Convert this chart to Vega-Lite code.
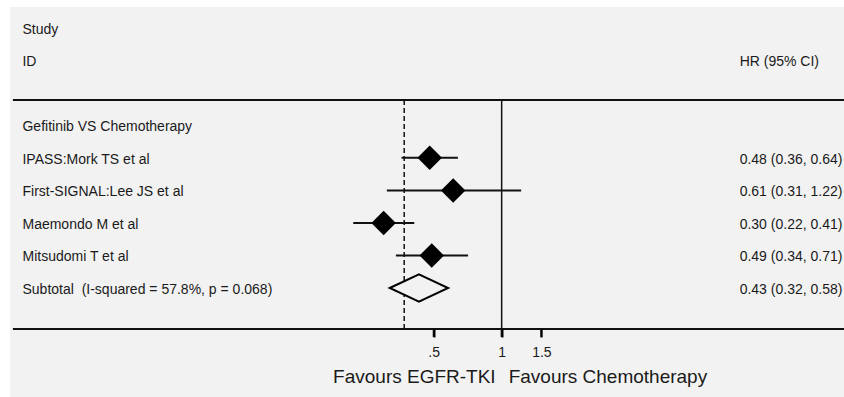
{
  "$schema": "https://vega.github.io/schema/vega-lite/v6.json",
  "width": 834,
  "height": 322,
  "autosize": {"type": "none"},
  "padding": {"left": 10, "top": 7, "right": 0, "bottom": 68},
  "background": "white",
  "config": {"view": {"stroke": null}, "font": "Liberation Sans"},
  "data": {"values": [{}]},
  "datasets": {
    "rows": [
      {"row": 0, "study": "Study", "kind": "header"},
      {"row": 1, "study": "ID", "ci": "HR (95% CI)", "kind": "header"},
      {"row": 3, "study": "Gefitinib VS Chemotherapy", "kind": "group"},
      {"row": 4, "study": "IPASS:Mork TS et al", "hr": 0.48, "lo": 0.36, "hi": 0.64, "ci": "0.48 (0.36, 0.64)", "kind": "study"},
      {"row": 5, "study": "First-SIGNAL:Lee JS et al", "hr": 0.61, "lo": 0.31, "hi": 1.22, "ci": "0.61 (0.31, 1.22)", "kind": "study"},
      {"row": 6, "study": "Maemondo M et al", "hr": 0.30, "lo": 0.22, "hi": 0.41, "ci": "0.30 (0.22, 0.41)", "kind": "study"},
      {"row": 7, "study": "Mitsudomi T et al", "hr": 0.49, "lo": 0.34, "hi": 0.71, "ci": "0.49 (0.34, 0.71)", "kind": "study"},
      {"row": 8, "study": "Subtotal\u00a0 (I-squared = 57.8%, p = 0.068)", "hr": 0.43, "lo": 0.32, "hi": 0.58, "ci": "0.43 (0.32, 0.58)", "kind": "subtotal"}
    ],
    "ticks": [{"v": 0.5}, {"v": 1}, {"v": 1.5}]
  },
  "layer": [
    {
      "mark": {"type": "rect", "color": "#f2f2f2"},
      "encoding": {
        "x": {
          "datum": 0.00663, "type": "quantitative",
          "scale": {"type": "log", "domain": [0.00663, 32.88], "nice": false},
          "axis": {
            "values": [0.5, 1, 1.5],
            "labelExpr": "datum.value == 0.5 ? '.5' : (datum.value == 1 ? '1' : '1.5')",
            "domain": false, "grid": false, "ticks": true,
            "tickSize": 8, "tickWidth": 2, "tickColor": "#000", "tickOpacity": 1,
            "labelFontSize": 14, "labelColor": "#1a1a1a", "labelFont": "Liberation Sans",
            "labelPadding": 8, "labelFlush": false, "labelOverlap": false,
            "title": null, "zindex": 2
          }
        },
        "x2": {"datum": 32.88},
        "y": {"datum": -0.636, "type": "quantitative", "scale": {"domain": [-0.636, 9.26], "reverse": true, "nice": false, "zero": false}, "axis": null},
        "y2": {"datum": 11.35}
      }
    },
    {
      "mark": {"type": "rule", "color": "#111", "strokeWidth": 2},
      "encoding": {
        "x": {"datum": 0.00683, "type": "quantitative"},
        "x2": {"datum": 32.88},
        "y": {"datum": 2.222, "type": "quantitative", "axis": null}
      }
    },
    {
      "mark": {"type": "rule", "color": "#111", "strokeWidth": 2},
      "encoding": {
        "x": {"datum": 0.00683, "type": "quantitative"},
        "x2": {"datum": 32.88},
        "y": {"datum": 9.26, "type": "quantitative", "axis": null}
      }
    },
    {
      "data": {"name": "ticks"},
      "mark": {"type": "rule", "color": "#111", "strokeWidth": 2},
      "encoding": {
        "x": {"field": "v", "type": "quantitative"},
        "y": {"datum": 9.26, "type": "quantitative", "axis": null},
        "y2": {"datum": 9.506}
      }
    },
    {
      "mark": {"type": "rule", "color": "#111", "strokeWidth": 1.5},
      "encoding": {
        "x": {"datum": 1, "type": "quantitative"},
        "y": {"datum": 2.222, "type": "quantitative", "axis": null},
        "y2": {"datum": 9.26}
      }
    },
    {
      "mark": {"type": "rule", "color": "#111", "strokeWidth": 1.5, "strokeDash": [5, 3]},
      "encoding": {
        "x": {"datum": 0.37, "type": "quantitative"},
        "y": {"datum": 2.222, "type": "quantitative", "axis": null},
        "y2": {"datum": 9.26}
      }
    },
    {
      "data": {"name": "rows"},
      "transform": [{"filter": "datum.kind == 'study'"}],
      "mark": {"type": "rule", "color": "#111", "strokeWidth": 2},
      "encoding": {
        "x": {"field": "lo", "type": "quantitative"},
        "x2": {"field": "hi"},
        "y": {"field": "row", "type": "quantitative", "axis": null}
      }
    },
    {
      "data": {"name": "rows"},
      "transform": [{"filter": "datum.kind == 'study'"}],
      "mark": {"type": "point", "shape": "diamond", "size": 600, "filled": true, "color": "#000", "opacity": 1},
      "encoding": {
        "x": {"field": "hr", "type": "quantitative"},
        "y": {"field": "row", "type": "quantitative", "axis": null}
      }
    },
    {
      "data": {"name": "rows"},
      "transform": [{"filter": "datum.kind == 'subtotal'"}],
      "mark": {"type": "point", "shape": "M-1,0L0,-0.47L1,0L0,0.47Z", "size": 3400, "fill": "#f2f2f2", "stroke": "#000", "strokeWidth": 2, "opacity": 1, "fillOpacity": 1},
      "encoding": {
        "x": {"field": "hr", "type": "quantitative"},
        "y": {"field": "row", "type": "quantitative", "axis": null}
      }
    },
    {
      "data": {"name": "rows"},
      "mark": {"type": "text", "align": "left", "baseline": "middle", "fontSize": 14, "color": "#1a1a1a", "dy": 2},
      "encoding": {
        "x": {"datum": 0.00753, "type": "quantitative"},
        "y": {"field": "row", "type": "quantitative", "axis": null},
        "text": {"field": "study"}
      }
    },
    {
      "data": {"name": "rows"},
      "transform": [{"filter": "isValid(datum.ci)"}],
      "mark": {"type": "text", "align": "left", "baseline": "middle", "fontSize": 14, "color": "#1a1a1a", "dy": 2},
      "encoding": {
        "x": {"datum": 11.34, "type": "quantitative"},
        "y": {"field": "row", "type": "quantitative", "axis": null},
        "text": {"field": "ci"}
      }
    },
    {
      "mark": {"type": "text", "align": "right", "baseline": "middle", "fontSize": 19, "color": "#1a1a1a", "dx": -6, "text": "Favours EGFR-TKI"},
      "encoding": {
        "x": {"datum": 1, "type": "quantitative"},
        "y": {"datum": 10.72, "type": "quantitative", "axis": null}
      }
    },
    {
      "mark": {"type": "text", "align": "left", "baseline": "middle", "fontSize": 19, "color": "#1a1a1a", "dx": 7, "text": "Favours Chemotherapy"},
      "encoding": {
        "x": {"datum": 1, "type": "quantitative"},
        "y": {"datum": 10.72, "type": "quantitative", "axis": null}
      }
    }
  ]
}
